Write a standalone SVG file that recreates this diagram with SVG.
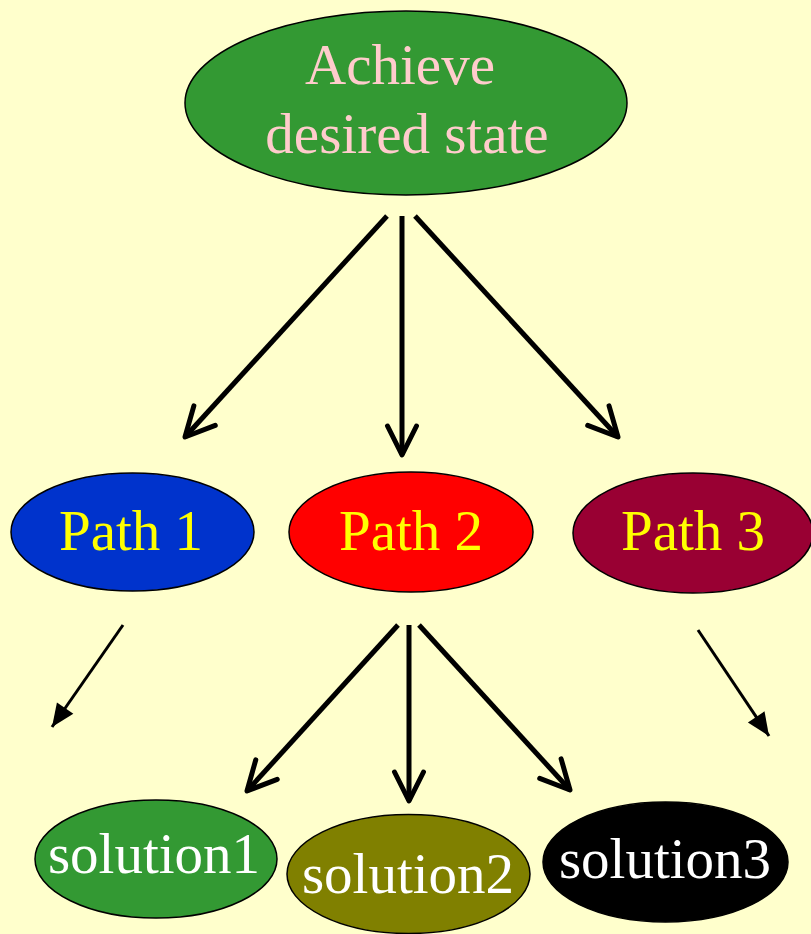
<svg xmlns="http://www.w3.org/2000/svg" width="811" height="934" viewBox="0 0 811 934">
<style>
.node ellipse{stroke:#000;stroke-width:1.5}
text{font-family:"Liberation Serif","Times New Roman",serif;font-size:57px;text-anchor:middle}
.conn line{stroke:#000;fill:none}
.thick{stroke-width:5}
.thin{stroke-width:3}
</style>
<defs>
<marker id="open" markerUnits="userSpaceOnUse" orient="auto" overflow="visible" markerWidth="40" markerHeight="40" refX="0" refY="0">
<path d="M-29,-14.5 L0,0 L-29,14.5" fill="none" stroke="#000" stroke-width="5" stroke-linecap="round" stroke-linejoin="round"/>
</marker>
<marker id="solid" markerUnits="userSpaceOnUse" orient="auto" overflow="visible" markerWidth="30" markerHeight="30" refX="0" refY="0">
<path d="M-23,-10 L0,0 L-23,10 Z" fill="#000"/>
</marker>
</defs>
<rect width="811" height="934" fill="#FFFFCC"/>
<g class="conn" id="connectors">
<line class="thick" x1="387" y1="216" x2="185" y2="437" marker-end="url(#open)"/>
<line class="thick" x1="402" y1="216" x2="402" y2="455" marker-end="url(#open)"/>
<line class="thick" x1="415" y1="216" x2="618" y2="437" marker-end="url(#open)"/>
<line class="thick" x1="398" y1="625" x2="247" y2="791" marker-end="url(#open)"/>
<line class="thick" x1="409" y1="625" x2="409" y2="801" marker-end="url(#open)"/>
<line class="thick" x1="419" y1="625" x2="570" y2="790" marker-end="url(#open)"/>
<line class="thin" x1="123" y1="625" x2="52" y2="727" marker-end="url(#solid)"/>
<line class="thin" x1="698" y1="630" x2="769" y2="736" marker-end="url(#solid)"/>
</g>
<g class="node" id="goal">
<ellipse cx="406" cy="103" rx="221" ry="92" fill="#339933"/>
<text x="400" y="84" fill="#FFCCCC">Achieve</text>
<text x="407" y="153" fill="#FFCCCC">desired state</text>
</g>
<g class="node" id="path1">
<ellipse cx="132.5" cy="532" rx="121.5" ry="59" fill="#0033CC"/>
<text x="131" y="550" fill="#FFFF00">Path 1</text>
</g>
<g class="node" id="path2">
<ellipse cx="411" cy="532" rx="122" ry="60" fill="#FF0000"/>
<text x="411" y="550" fill="#FFFF00">Path 2</text>
</g>
<g class="node" id="path3">
<ellipse cx="693" cy="533" rx="120" ry="60" fill="#990033"/>
<text x="693" y="550" fill="#FFFF00">Path 3</text>
</g>
<g class="node" id="solution1">
<ellipse cx="156" cy="859" rx="121" ry="59" fill="#339933"/>
<text x="154" y="873" fill="#FFFFFF">solution1</text>
</g>
<g class="node" id="solution2">
<ellipse cx="408.5" cy="874" rx="121.5" ry="59.5" fill="#808000"/>
<text x="408" y="893" fill="#FFFFFF">solution2</text>
</g>
<g class="node" id="solution3">
<ellipse cx="665.5" cy="862" rx="122.5" ry="60" fill="#000000"/>
<text x="665" y="878" fill="#FFFFFF">solution3</text>
</g>
</svg>
